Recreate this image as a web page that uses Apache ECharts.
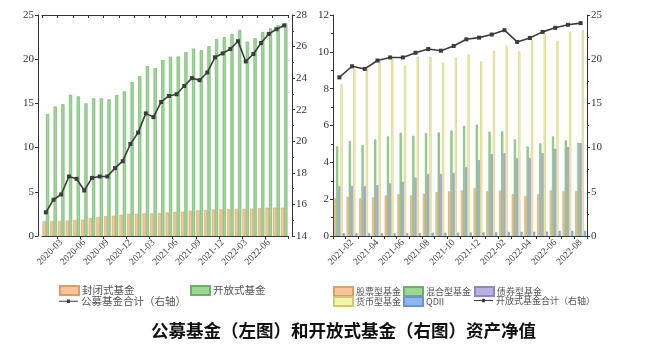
<!DOCTYPE html>
<html>
<head>
<meta charset="utf-8">
<script src="https://cdn.jsdelivr.net/npm/echarts@6/dist/echarts.min.js"></script>
<style>
  html, body { margin: 0; padding: 0; background: #fff; }
  #main { width: 654px; height: 351px; }
</style>
</head>
<body>
<div id="main"></div>
<script>
// left chart: monthly, 2020-01 .. 2022-08 (trillion yuan)
var monthsL = [];
for (var y = 2020; y <= 2022; y++) {
    for (var m = 1; m <= 12; m++) {
        if (y === 2022 && m > 8) break;
        monthsL.push(y + '-' + (m < 10 ? '0' + m : m));
    }
}
var closedFund = [1.65, 1.7, 1.7, 1.75, 1.8, 1.85, 2.05, 2.15, 2.25, 2.3, 2.4, 2.5, 2.5, 2.55, 2.55, 2.6,
                  2.65, 2.7, 2.75, 2.85, 2.9, 2.95, 3.0, 3.05, 3.05, 3.05, 3.05, 3.1, 3.15, 3.2, 3.2, 3.2];
var openFund   = [13.8, 14.65, 14.9, 15.98, 15.8, 15.0, 15.57, 15.57, 15.45, 15.95, 16.36, 17.4, 18.07, 19.2, 18.98, 19.9,
                  20.27, 20.3, 20.8, 21.2, 21.0, 21.48, 22.27, 22.5, 22.84, 23.3, 21.97, 22.39, 23.07, 23.48, 23.86, 24.05];
var publicTotal = [15.5, 16.3, 16.63, 17.77, 17.62, 16.88, 17.68, 17.77, 17.77, 18.3, 18.74, 19.83, 20.55, 21.77, 21.53, 22.49,
                   22.87, 22.98, 23.5, 24.0, 23.87, 24.36, 25.32, 25.57, 25.85, 26.34, 25.06, 25.53, 26.23, 26.8, 27.1, 27.34];

// right chart: monthly, 2021-01 .. 2022-08
var monthsR = monthsL.slice(12);
var stockFund = [2.05, 2.14, 2.05, 2.1, 2.2, 2.27, 2.2, 2.3, 2.38, 2.43, 2.48, 2.6, 2.43, 2.48, 2.27, 2.16, 2.27, 2.48, 2.43, 2.43];
var mixedFund = [4.86, 5.15, 4.94, 5.24, 5.41, 5.6, 5.44, 5.58, 5.62, 5.73, 5.98, 6.05, 5.66, 5.68, 5.24, 4.86, 5.03, 5.41, 5.19, 5.06];
var bondFund  = [2.7, 2.7, 2.7, 2.76, 2.86, 2.95, 3.17, 3.35, 3.37, 3.42, 3.73, 4.11, 4.45, 4.5, 4.22, 4.23, 4.5, 4.74, 4.83, 5.05];
var moneyFund = [8.24, 9.09, 9.09, 9.49, 9.58, 9.24, 9.73, 9.73, 9.42, 9.67, 9.85, 9.47, 10.05, 10.33, 10.02, 10.64, 11.0, 10.6, 11.1, 11.2];
var qdiiFund  = [0.15, 0.15, 0.15, 0.15, 0.15, 0.15, 0.16, 0.18, 0.18, 0.18, 0.19, 0.2, 0.2, 0.22, 0.23, 0.23, 0.24, 0.28, 0.28, 0.28];
var openTotal = [17.94, 19.2, 18.9, 19.85, 20.2, 20.2, 20.73, 21.15, 20.96, 21.49, 22.25, 22.44, 22.79, 23.28, 21.95, 22.4, 23.09, 23.55, 23.89, 24.08];

var serif = 'Liberation Serif';
var cjk = 'Noto Sans CJK SC';
var axisCol = '#333';
var lineCol = '#3c3c3c';

var cOrange = { color: '#f8c59a', borderColor: '#dd9c68', borderWidth: 0.6 };
var cGreen  = { color: '#9fd599', borderColor: '#68b261', borderWidth: 0.6 };
var cYellow = { color: '#f7f5a8', borderColor: '#cdc87a', borderWidth: 0.6 };
var cPurple = { color: '#b9b1e0', borderColor: '#8c88c4', borderWidth: 0.6 };
var cBlue   = { color: '#8eb6ee', borderColor: '#6a93d0', borderWidth: 0.6 };

var lineIcon = 'path://M0,4 L20,4 L20,5.2 L0,5.2 Z M8.5,2.8 L11.5,2.8 L11.5,6.4 L8.5,6.4 Z';

function valAxis(gi, min, max, step, pos, minor, offset) {
    return {
        type: 'value', gridIndex: gi, position: pos, min: min, max: max, interval: step,
        offset: offset || 0,
        axisLine: { show: true, lineStyle: { color: axisCol, width: 1 } },
        axisTick: { show: true, length: 3, lineStyle: { color: axisCol } },
        minorTick: { show: minor, splitNumber: 2, length: 2, lineStyle: { color: axisCol } },
        splitLine: { show: false },
        axisLabel: { fontFamily: serif, fontSize: 11, color: axisCol, margin: 4 }
    };
}

function catAxis(gi, data, labelFn) {
    return {
        type: 'category', gridIndex: gi, data: data, position: 'bottom',
        axisLine: { show: true, lineStyle: { color: axisCol } },
        axisTick: { show: true, length: 3, interval: labelFn, lineStyle: { color: axisCol } },
        axisLabel: { interval: labelFn, rotate: 45, fontFamily: serif, fontSize: 9.5, color: '#444', margin: 5 }
    };
}

function topAxis(gi, data) {
    return {
        type: 'category', gridIndex: gi, data: data, position: 'top',
        axisLine: { show: true, lineStyle: { color: axisCol } },
        axisTick: { show: true, inside: true, length: 3, interval: 1, lineStyle: { color: axisCol } },
        axisLabel: { show: false }
    };
}

function legendAt(name, x, y, fs, icon) {
    return {
        data: [{ name: name, icon: icon || 'rect' }], left: x, top: y,
        itemWidth: 19, itemHeight: 9, itemGap: 0, padding: 0,
        textStyle: { fontFamily: cjk, fontSize: fs, color: '#555', padding: [0, 0, 0, -2] }
    };
}

var lineStyleSeries = {
    type: 'line', symbol: 'rect', symbolSize: 4,
    lineStyle: { color: lineCol, width: 1.6 },
    itemStyle: { color: lineCol }
};

var chart = echarts.init(document.getElementById('main'));
chart.setOption({
    animation: false,
    backgroundColor: '#fff',
    title: {
        text: '公募基金（左图）和开放式基金（右图）资产净值',
        left: 146, top: 317,
        textStyle: { fontFamily: cjk, fontSize: 17.5, fontWeight: 'bold', color: '#111' }
    },
    legend: [
        legendAt('封闭式基金', 59, 285, 10.5),
        legendAt('开放式基金', 190, 285, 10.5),
        legendAt('公募基金合计（右轴）', 59, 296, 10.5, lineIcon),
        legendAt('股票型基金', 333, 286, 9),
        legendAt('混合型基金', 403, 286, 9),
        legendAt('债券型基金', 474, 286, 9),
        legendAt('货币型基金', 333, 296, 9),
        legendAt('QDII', 403, 296, 9),
        legendAt('开放式基金合计（右轴）', 474, 296, 9, lineIcon)
    ],
    grid: [
        { left: 42, right: 366, top: 15, bottom: 115 },
        { left: 333, right: 67, top: 15, bottom: 115 }
    ],
    xAxis: [
        catAxis(0, monthsL, function (i) { return i % 3 === 2; }),
        catAxis(1, monthsR, function (i) { return i % 2 === 1; }),
        topAxis(0, monthsL),
        topAxis(1, monthsR)
    ],
    yAxis: [
        valAxis(0, 0, 25, 5, 'left', false, 4),
        valAxis(0, 14, 28, 2, 'right', true, 4),
        valAxis(1, 0, 12, 2, 'left', true, 0),
        valAxis(1, 0, 25, 5, 'right', true, 0)
    ],
    series: [
        { name: '封闭式基金', type: 'bar', xAxisIndex: 0, yAxisIndex: 0, data: closedFund,
          barWidth: 3.2, barGap: '5%', itemStyle: cOrange },
        { name: '开放式基金', type: 'bar', xAxisIndex: 0, yAxisIndex: 0, data: openFund,
          barWidth: 3.2, barGap: '5%', itemStyle: cGreen },
        Object.assign({ name: '公募基金合计（右轴）', xAxisIndex: 0, yAxisIndex: 1, data: publicTotal, z: 5 }, lineStyleSeries),

        { name: '股票型基金', type: 'bar', xAxisIndex: 1, yAxisIndex: 2, data: stockFund,
          barWidth: 2.1, barGap: '5%', itemStyle: cOrange },
        { name: '混合型基金', type: 'bar', xAxisIndex: 1, yAxisIndex: 2, data: mixedFund,
          barWidth: 2.1, barGap: '5%', itemStyle: cGreen },
        { name: '债券型基金', type: 'bar', xAxisIndex: 1, yAxisIndex: 2, data: bondFund,
          barWidth: 2.1, barGap: '5%', itemStyle: cPurple },
        { name: '货币型基金', type: 'bar', xAxisIndex: 1, yAxisIndex: 2, data: moneyFund,
          barWidth: 2.1, barGap: '5%', itemStyle: cYellow },
        { name: 'QDII', type: 'bar', xAxisIndex: 1, yAxisIndex: 2, data: qdiiFund,
          barWidth: 2.1, barGap: '5%', itemStyle: cBlue },
        Object.assign({ name: '开放式基金合计（右轴）', xAxisIndex: 1, yAxisIndex: 3, data: openTotal, z: 5 }, lineStyleSeries)
    ]
});
</script>
</body>
</html>
